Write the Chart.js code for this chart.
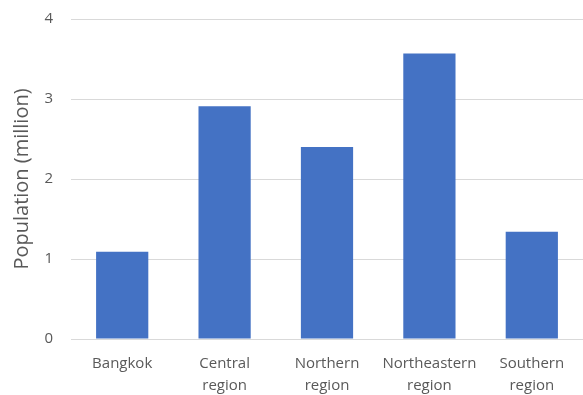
<!DOCTYPE html>
<html>
<head>
<meta charset="utf-8">
<script src="https://cdn.jsdelivr.net/npm/chart.js@4/dist/chart.umd.min.js"></script>
<style>
  html, body { margin: 0; padding: 0; background: #ffffff; }
  #wrap { width: 583px; height: 395px; }
</style>
</head>
<body>
<div id="wrap"><canvas id="population-chart" width="583" height="395"></canvas></div>
<script>
// Regional population, millions
const regions = [['Bangkok'], ['Central', 'region'], ['Northern', 'region'], ['Northeastern', 'region'], ['Southern', 'region']];
const population = [1.09, 2.91, 2.40, 3.57, 1.34];
const yTicks = [0, 1, 2, 3, 4];

const textColor = '#595959';
const gridColor = '#d9d9d9';
const barColor = '#4472c4';

Chart.defaults.font.family = "'Open Sans', 'Liberation Sans', sans-serif";
Chart.defaults.color = textColor;

const ctx = document.getElementById('population-chart').getContext('2d');

new Chart(ctx, {
    type: 'bar',
    data: {
        labels: regions,
        datasets: [{
            label: 'Population (million)',
            data: population,
            backgroundColor: barColor,
            borderWidth: 0,
            categoryPercentage: 1,
            barPercentage: 0.51
        }]
    },
    options: {
        responsive: false,
        animation: false,
        layout: {
            padding: { top: 19, right: 0, left: 0, bottom: 0 }
        },
        plugins: {
            legend: { display: false },
            tooltip: { enabled: false }
        },
        scales: {
            y: {
                min: 0,
                max: 4,
                afterFit: (scale) => {
                    scale.width = 71;
                    // let the top tick label overhang instead of shrinking the plot
                    scale.paddingTop = 0;
                    scale.paddingBottom = 0;
                },
                afterBuildTicks: (scale) => {
                    scale.ticks = yTicks.map(v => ({ value: v }));
                },
                border: { display: false },
                grid: {
                    color: gridColor,
                    lineWidth: 1,
                    drawTicks: false
                },
                ticks: {
                    color: textColor,
                    padding: 18,
                    font: { size: 15 }
                },
                title: {
                    display: true,
                    text: 'Population (million)',
                    color: textColor,
                    font: { size: 20 },
                    padding: { top: 10, bottom: 2 }
                }
            },
            x: {
                afterFit: (scale) => { scale.height = 56; },
                border: { display: true, color: gridColor, width: 1 },
                grid: { display: false, drawTicks: false },
                ticks: {
                    color: textColor,
                    padding: 14,
                    maxRotation: 0,
                    font: { size: 15, lineHeight: 1.45 }
                }
            }
        }
    }
});
</script>
</body>
</html>
